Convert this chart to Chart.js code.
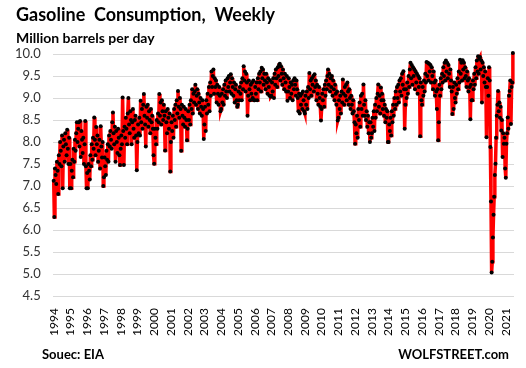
<!DOCTYPE html>
<html>
<head>
<meta charset="utf-8">
<script src="https://cdn.jsdelivr.net/npm/chart.js"></script>
<style>
  html, body { margin: 0; padding: 0; background: #fff; }
  #wrap { width: 526px; height: 368px; position: relative; }
</style>
</head>
<body>
<div id="wrap"><canvas id="gas-chart"></canvas></div>
<script>
// Gasoline consumption, weekly (million barrels per day)
// roughly two readings per month, 26 per year
var years = [1994, 1995, 1996, 1997, 1998, 1999, 2000, 2001, 2002, 2003, 2004, 2005, 2006, 2007,
	2008, 2009, 2010, 2011, 2012, 2013, 2014, 2015, 2016, 2017, 2018, 2019, 2020, 2021];
var perYear = 26;

var c1994 = [7.12, 6.30, 7.40, 7.25, 7.05, 7.55, 7.35, 6.82, 7.70, 7.50, 8.00, 7.80, 7.45, 8.15, 6.95, 7.90, 8.05, 7.55, 8.20, 7.95, 7.70, 8.28, 7.85, 7.50, 8.10, 6.95];
var c1995 = [7.50, 6.95, 7.35, 7.60, 7.20, 7.85, 7.55, 8.05, 7.80, 8.20, 8.45, 8.00, 8.30, 8.45, 7.90, 8.48, 7.66, 8.25, 8.05, 7.75, 8.10, 7.50, 7.95, 8.48, 7.45, 6.95];
var c1996 = [7.30, 6.95, 7.50, 7.35, 7.15, 7.70, 7.45, 7.95, 7.60, 8.10, 7.85, 8.56, 8.05, 7.70, 8.34, 7.95, 8.15, 7.55, 7.80, 8.05, 7.40, 8.36, 7.90, 7.65, 8.00, 7.00];
var c1997 = [7.20, 7.65, 7.45, 7.25, 7.80, 7.60, 7.95, 7.55, 8.15, 7.90, 8.25, 8.05, 7.85, 8.45, 8.67, 8.20, 7.95, 8.35, 7.55, 8.25, 8.00, 7.75, 8.30, 8.10, 7.70, 7.48];
var c1998 = [7.85, 8.15, 7.95, 9.01, 8.25, 7.48, 8.35, 8.10, 8.55, 8.30, 7.95, 8.65, 9.00, 8.40, 8.20, 8.70, 8.50, 7.95, 8.45, 8.75, 8.30, 8.10, 8.50, 8.60, 8.15, 7.36];
var c1999 = [8.00, 8.40, 8.20, 8.55, 8.15, 8.94, 8.45, 8.75, 8.30, 8.85, 9.09, 8.60, 8.40, 7.90, 8.80, 8.55, 8.85, 8.35, 8.70, 8.50, 8.20, 8.75, 8.45, 8.60, 8.30, 7.70];
var c2000 = [7.51, 8.30, 8.10, 7.95, 8.50, 8.30, 8.65, 8.45, 9.09, 8.60, 8.90, 8.40, 8.95, 8.70, 8.50, 8.85, 8.60, 7.81, 8.70, 8.45, 8.20, 8.75, 8.55, 8.30, 8.65, 7.33];
var c2001 = [8.00, 8.45, 8.25, 8.60, 8.10, 8.75, 8.50, 8.85, 8.35, 8.95, 8.65, 9.16, 8.80, 8.55, 9.00, 8.75, 7.80, 8.85, 8.60, 8.40, 8.80, 8.55, 8.35, 8.75, 8.50, 8.04];
var c2002 = [8.30, 8.70, 8.50, 8.85, 8.40, 8.95, 8.75, 9.20, 8.65, 9.10, 8.90, 9.15, 9.30, 8.85, 9.05, 9.20, 8.75, 9.10, 8.90, 8.65, 9.00, 8.80, 8.60, 8.95, 8.75, 8.07];
var c2003 = [8.40, 8.80, 8.25, 8.95, 8.65, 9.10, 8.85, 9.25, 8.70, 9.35, 9.05, 9.60, 9.25, 9.50, 9.65, 9.10, 9.45, 9.25, 9.40, 8.90, 9.30, 9.10, 8.85, 9.25, 9.05, 8.70];
var c2004 = [8.75, 9.10, 8.90, 9.20, 8.85, 9.30, 9.05, 9.40, 9.15, 9.00, 9.45, 9.25, 9.50, 9.15, 9.35, 9.54, 9.10, 9.45, 9.25, 9.05, 9.35, 8.90, 9.20, 9.30, 8.95, 8.80];
var c2005 = [8.85, 9.15, 8.95, 9.25, 9.10, 9.35, 8.95, 9.45, 9.20, 9.72, 9.40, 9.60, 9.15, 9.55, 9.35, 8.60, 9.05, 9.40, 9.20, 8.95, 9.30, 9.10, 9.35, 9.00, 9.40, 8.95];
var c2006 = [8.95, 9.25, 9.10, 9.35, 8.95, 9.45, 9.20, 9.55, 9.35, 9.60, 9.15, 9.69, 9.45, 9.65, 9.30, 9.55, 9.40, 9.20, 9.55, 9.35, 9.10, 9.45, 9.25, 9.05, 9.40, 9.03];
var c2007 = [9.05, 9.35, 9.15, 9.45, 9.00, 9.55, 9.30, 9.65, 9.45, 9.25, 9.70, 9.50, 9.75, 9.78, 9.40, 9.72, 9.55, 9.30, 9.65, 9.45, 9.20, 9.55, 9.35, 9.15, 9.50, 8.94];
var c2008 = [9.15, 9.45, 9.25, 9.00, 9.35, 9.10, 9.30, 8.95, 9.40, 9.20, 9.45, 9.30, 9.05, 9.40, 9.20, 9.00, 8.70, 9.10, 8.65, 9.05, 8.85, 9.10, 8.75, 9.15, 8.95, 8.70];
var c2009 = [8.65, 9.05, 8.85, 9.15, 8.75, 9.25, 9.00, 9.57, 9.20, 9.40, 9.05, 9.45, 9.30, 9.50, 9.15, 9.54, 9.25, 9.40, 8.95, 9.30, 9.10, 8.85, 9.25, 9.00, 8.80, 8.49];
var c2010 = [8.75, 9.10, 8.95, 9.20, 8.80, 9.30, 9.05, 9.40, 9.20, 9.50, 9.65, 9.30, 9.55, 9.15, 9.45, 9.25, 9.50, 9.05, 9.40, 9.20, 8.95, 9.30, 9.10, 8.85, 9.15, 8.49];
var c2011 = [8.55, 8.95, 8.75, 9.05, 8.65, 9.15, 8.90, 9.42, 9.10, 8.85, 9.25, 9.05, 9.30, 8.95, 9.35, 9.15, 8.85, 9.20, 9.00, 8.75, 9.05, 8.85, 8.65, 8.95, 8.70, 8.45];
var c2012 = [7.96, 8.40, 8.20, 8.60, 8.10, 8.75, 8.50, 8.90, 8.35, 9.05, 8.75, 9.10, 8.60, 9.31, 8.85, 8.60, 8.95, 8.50, 8.70, 8.35, 8.60, 8.20, 8.45, 8.00, 8.45, 8.10];
var c2013 = [8.20, 8.55, 8.35, 8.70, 8.25, 8.85, 8.55, 9.00, 8.70, 9.10, 9.31, 8.80, 9.05, 8.65, 9.24, 8.95, 9.10, 8.75, 8.95, 8.60, 8.85, 8.45, 8.75, 8.55, 8.70, 8.00];
var c2014 = [8.00, 8.40, 8.25, 8.55, 8.15, 8.70, 8.45, 8.85, 8.60, 9.00, 8.75, 9.15, 8.85, 9.25, 9.00, 9.30, 8.90, 9.40, 9.15, 9.45, 9.05, 9.55, 9.30, 9.61, 9.20, 8.30];
var c2015 = [8.85, 9.20, 9.00, 9.35, 9.10, 9.50, 9.25, 9.65, 9.80, 9.45, 9.75, 9.30, 9.70, 9.50, 9.65, 9.20, 9.60, 9.35, 9.55, 9.10, 9.50, 9.25, 9.45, 8.13, 9.35, 8.95];
var c2016 = [8.85, 9.25, 9.05, 9.40, 9.15, 9.55, 9.35, 9.82, 9.50, 9.80, 9.40, 9.78, 9.60, 9.75, 9.35, 9.70, 9.50, 9.20, 9.60, 9.35, 9.05, 9.40, 9.15, 8.75, 9.20, 8.04];
var c2017 = [8.45, 9.30, 9.05, 9.45, 9.20, 9.55, 9.35, 9.70, 9.50, 9.80, 9.40, 9.85, 9.60, 9.80, 9.45, 9.75, 9.55, 9.25, 9.65, 9.40, 9.15, 8.64, 9.25, 8.75, 9.35, 9.00];
var c2018 = [8.90, 9.30, 9.10, 9.45, 9.20, 9.60, 9.35, 9.87, 9.55, 9.80, 9.40, 9.86, 9.65, 9.80, 9.45, 9.70, 9.50, 9.25, 9.60, 9.40, 9.15, 9.45, 9.25, 8.52, 9.30, 8.95];
var c2019 = [8.95, 9.40, 9.20, 9.55, 9.30, 9.70, 9.45, 9.85, 9.60, 9.95, 9.55, 9.90, 9.93, 9.65, 9.85, 8.90, 9.80, 9.50, 9.70, 9.35, 9.60, 9.25, 8.11, 9.25, 9.45, 9.05];
var c2020 = [9.70, 9.40, 7.89, 6.65, 5.04, 5.28, 5.83, 6.35, 6.76, 7.25, 7.51, 8.10, 8.60, 8.85, 9.16, 8.70, 8.90, 8.55, 8.80, 8.26, 8.50, 7.66, 8.20, 7.96, 8.10, 7.40];
var c2021 = [7.19, 7.96, 8.20, 8.56, 8.30, 9.05, 9.16, 9.40, 8.41, 9.25, 9.35, 10.02];

var series = [c1994, c1995, c1996, c1997, c1998, c1999, c2000, c2001, c2002, c2003, c2004, c2005, c2006, c2007,
	c2008, c2009, c2010, c2011, c2012, c2013, c2014, c2015, c2016, c2017, c2018, c2019, c2020, c2021];

var yTicks = [4.5, 5.0, 5.5, 6.0, 6.5, 7.0, 7.5, 8.0, 8.5, 9.0, 9.5, 10.0];

var FONT = "Lato, 'Liberation Sans', sans-serif";

// build x/y points: x is the year plus the position within the year
var points = [];
series.forEach(function (vals, k) {
	vals.forEach(function (v, i) {
		points.push({ x: years[k] + i / perYear, y: v });
	});
});

// titles and footer drawn on the canvas
var textPlugin = {
	id: "texts",
	afterDraw: function (chart) {
		var ctx = chart.ctx;
		ctx.save();
		ctx.fillStyle = "#000";
		ctx.textBaseline = "alphabetic";
		ctx.textAlign = "left";
		ctx.font = "bold 18px " + FONT;
		ctx.fillText("Gasoline  Consumption,  Weekly", 16, 21);
		ctx.font = "bold 14px " + FONT;
		ctx.fillText("Million barrels per day", 16, 43);
		ctx.font = "bold 13px " + FONT;
		ctx.fillText("Souec: EIA", 42, 359);
		ctx.textAlign = "right";
		ctx.fillText("WOLFSTREET.com", 509, 359);
		ctx.restore();
	},
};

var ctx = document.getElementById("gas-chart").getContext("2d");
new Chart(ctx, {
	type: "line",
	data: {
		datasets: [
			{
				label: "Gasoline consumption",
				data: points,
				borderColor: "#ff0000",
				borderWidth: 3.5,
				pointRadius: 2,
				pointBackgroundColor: "#000",
				pointBorderWidth: 0,
				pointStyle: "circle",
				tension: 0,
				clip: false,
			},
		],
	},
	options: {
		responsive: true,
		maintainAspectRatio: false,
		animation: false,
		layout: { padding: { left: 3, right: 12, top: 54, bottom: 28 } },
		plugins: {
			legend: { display: false },
			tooltip: { enabled: false },
		},
		scales: {
			x: {
				type: "linear",
				min: 1993.94,
				max: 2021.49,
				afterBuildTicks: function (axis) {
					axis.ticks = years.map(function (y) { return { value: y }; });
				},
				ticks: {
					autoSkip: false,
					minRotation: 90,
					maxRotation: 90,
					padding: 4,
					color: "#000",
					font: { family: FONT, size: 12 },
					callback: function (v) { return String(v); },
				},
				grid: { display: false },
				border: { display: false },
			},
			y: {
				min: 4.5,
				max: 10,
				afterBuildTicks: function (axis) {
					axis.ticks = yTicks.map(function (v) { return { value: v }; });
				},
				ticks: {
					padding: 12,
					color: "#333",
					font: { family: FONT, size: 13 },
					callback: function (v) { return v.toFixed(1); },
				},
				grid: { color: "#d9d9d9", drawTicks: false, lineWidth: 1 },
				border: { display: false },
			},
		},
	},
	plugins: [textPlugin],
});
</script>
</body>
</html>
